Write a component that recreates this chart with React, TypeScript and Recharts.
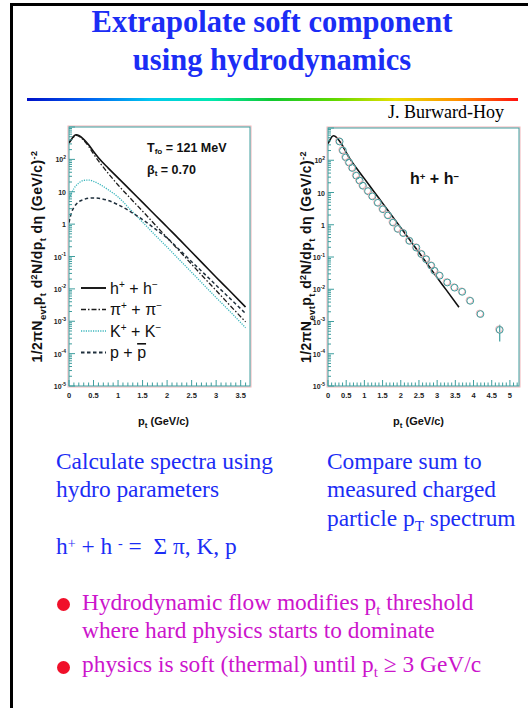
import React from "react";
import {
  ComposedChart,
  Line,
  Scatter,
  XAxis,
  YAxis,
  ReferenceArea,
  ErrorBar,
  Legend,
} from "recharts";

// Hydro blast-wave spectra, Tfo = 121 MeV, beta_t = 0.70
const hydroPt = [0, 0.05, 0.1, 0.15, 0.2, 0.3, 0.4, 0.5, 0.6, 0.8, 1.0, 1.25, 1.5, 1.75, 2.0, 2.25, 2.5, 2.75, 3.0, 3.25, 3.6];
const hSum = [331, 417, 525, 575, 550, 417, 282, 174, 112, 53.7, 26.9, 11.2, 4.68, 1.95, 0.813, 0.339, 0.138, 0.0562, 0.0229, 0.00955, 0.00275];
const pion = [316, 398, 501, 550, 525, 389, 253, 147, 90, 37, 16.2, 6.31, 2.51, 0.977, 0.38, 0.148, 0.0575, 0.0224, 0.00891, 0.00347, 0.000955];
const kaon = [6.31, 8.91, 12.6, 15.8, 18.6, 22.4, 22.9, 20.9, 17.8, 11.5, 6.92, 2.82, 1.15, 0.468, 0.195, 0.0794, 0.0324, 0.0132, 0.00537, 0.00224, 0.000631];
const proton = [1.12, 2.24, 3.31, 4.17, 4.9, 5.75, 6.31, 6.46, 6.31, 5.37, 3.98, 2.45, 1.38, 0.724, 0.372, 0.162, 0.0692, 0.0302, 0.0129, 0.00562, 0.00174];

// Measured charged hadron spectrum
const measPt = [0.32, 0.41, 0.49, 0.58, 0.67, 0.78, 0.87, 0.96, 1.1, 1.22, 1.37, 1.51, 1.65, 1.79, 1.92, 2.07, 2.24, 2.43, 2.57, 2.7, 2.84, 2.93, 3.07, 3.28, 3.48, 3.69, 3.91, 4.19, 4.72];
const measY = [380, 200, 123, 85.1, 57.5, 33.1, 23.4, 16.2, 11.0, 7.59, 4.79, 3.02, 1.95, 1.17, 0.741, 0.55, 0.316, 0.195, 0.123, 0.0851, 0.0537, 0.0372, 0.0263, 0.0162, 0.0112, 0.00832, 0.00437, 0.0017, 0.00055];
const measErrLow = [0, 0, 0, 0, 0, 0, 0, 0, 0, 0, 0, 0, 0, 0, 0, 0, 0, 0, 0, 0, 0, 0, 0, 0, 0, 0, 0, 0, 0.00031];
const measErrHigh = [0, 0, 0, 0, 0, 0, 0, 0, 0, 0, 0, 0, 0, 0, 0, 0, 0, 0, 0, 0, 0, 0, 0, 0, 0, 0, 0, 0, 0.00024];

const xMajorLeft = [0, 0.5, 1, 1.5, 2, 2.5, 3, 3.5];
const xMajorRight = [0, 0.5, 1, 1.5, 2, 2.5, 3, 3.5, 4, 4.5, 5];
const yDecades = [1e-5, 1e-4, 1e-3, 1e-2, 1e-1, 1, 10, 100, 1000];
const legendOrder = ["h", "pi", "k", "p"];

const hydroData = hydroPt.map((pt, i) => ({
  pt,
  h: hSum[i],
  pi: pion[i],
  k: kaon[i],
  p: proton[i],
}));
const measData = measPt.map((pt, i) => ({
  pt,
  y: measY[i],
  err: [measErrLow[i], measErrHigh[i]],
}));

const TEAL = "#3e9e9e";
const PINK = "#f2b4b8";
const SANS = "'Liberation Sans', Arial, sans-serif";
const SERIF = "'Liberation Serif', 'Times New Roman', serif";
const BLUE = "#1b2df5";
const MAGENTA = "#cc14cc";

// minor ticks every 0.1 GeV/c
const minorX = (max: number) => Array.from({ length: Math.round(max * 10) + 1 }, (_, i) => i / 10);
const yTicks = yDecades.flatMap((d, i) =>
  i === yDecades.length - 1 ? [d] : [1, 2, 3, 4, 5, 6, 7, 8, 9].map((m) => m * d)
);

const seriesStyle: Record<string, { stroke: string; dash?: string; width: number; label: React.ReactNode }> = {
  h: { stroke: "#111", width: 1.6, label: <>h<tspan dy={-6} fontSize={10}>+</tspan><tspan dy={6}> + h</tspan><tspan dy={-6} fontSize={10}>−</tspan></> },
  pi: { stroke: "#1c1c1c", dash: "5 2 1.5 2", width: 1.3, label: <>π<tspan dy={-6} fontSize={10}>+</tspan><tspan dy={6}> + π</tspan><tspan dy={-6} fontSize={10}>−</tspan></> },
  k: { stroke: "#3bb6bd", dash: "1.2 1.2", width: 1.3, label: <>K<tspan dy={-6} fontSize={10}>+</tspan><tspan dy={6}> + K</tspan><tspan dy={-6} fontSize={10}>−</tspan></> },
  p: { stroke: "#1f2f3c", dash: "3.5 2.5", width: 1.5, label: <>p + <tspan textDecoration="overline">p</tspan></> },
};

function XTick(props: any) {
  const { x, y, payload, majors } = props;
  const v = payload.value;
  const major = majors.some((m: number) => Math.abs(m - v) < 1e-6);
  return (
    <g>
      <line x1={x} x2={x} y1={y} y2={y - (major ? 6 : 3.5)} stroke={TEAL} strokeWidth={1} />
      {major && (
        <text x={x} y={y + 12} textAnchor="middle" fontFamily={SANS} fontWeight="bold" fontSize={7.5} fill="#222">
          {v}
        </text>
      )}
    </g>
  );
}

function YTick(props: any) {
  const { x, y, payload } = props;
  const lv = Math.log10(payload.value);
  const e = Math.round(lv);
  const major = Math.abs(lv - e) < 1e-6;
  return (
    <g>
      <line x1={x} x2={x + (major ? 6 : 3)} y1={y} y2={y} stroke={TEAL} strokeWidth={1} />
      {major && e < 3 && (
        <text x={x - 3} y={y + 3} textAnchor="end" fontFamily={SANS} fontWeight="bold" fontSize={7} fill="#222">
          {e === 0 ? "1" : "10"}
          {e !== 0 && e !== 1 && (
            <tspan dy={-3.5} fontSize={5}>
              {e}
            </tspan>
          )}
        </text>
      )}
    </g>
  );
}

const Frame = (p: any) => (
  <g>
    <rect x={p.x - 1} y={p.y - 1} width={p.width + 2} height={p.height + 2} fill="none" stroke={PINK} strokeWidth={1} />
    <rect x={p.x} y={p.y} width={p.width} height={p.height} fill="none" stroke={TEAL} strokeWidth={1} />
  </g>
);

function YTitle({ viewBox, dx }: any) {
  const cx = viewBox.x + dx;
  const cy = viewBox.y + viewBox.height / 2;
  return (
    <text
      x={cx}
      y={cy}
      transform={`rotate(-90 ${cx} ${cy})`}
      textAnchor="middle"
      fontFamily={SANS}
      fontWeight="bold"
      fontSize={14}
      letterSpacing={0.4}
      fill="#111"
    >
      1/2πN<tspan dy={3.5} fontSize={9.5}>evt</tspan>
      <tspan dy={-3.5}>p</tspan>
      <tspan dy={3.5} fontSize={9.5}>t</tspan>
      <tspan dy={-3.5}> d</tspan>
      <tspan dy={-5} fontSize={9}>2</tspan>
      <tspan dy={5}>N/dp</tspan>
      <tspan dy={3.5} fontSize={9.5}>t</tspan>
      <tspan dy={-3.5}> dη (GeV/c)</tspan>
      <tspan dy={-5} fontSize={9}>-2</tspan>
    </text>
  );
}

function XTitle({ viewBox, dx }: any) {
  return (
    <text x={viewBox.x + viewBox.width / 2 + dx} y={viewBox.y + 39} textAnchor="middle" fontFamily={SANS} fontWeight="bold" fontSize={11} fill="#111">
      p<tspan dy={3} fontSize={8}>t</tspan>
      <tspan dy={-3}> (GeV/c)</tspan>
    </text>
  );
}

function SpeciesLegend({ payload }: any) {
  const entries = [...(payload || [])].sort(
    (a: any, b: any) => legendOrder.indexOf(a.dataKey) - legendOrder.indexOf(b.dataKey)
  );
  return (
    <svg width={120} height={90}>
      {entries.map((entry: any, i: number) => {
        const s = seriesStyle[entry.dataKey];
        if (!s) return null;
        const y = 8 + i * 21.5;
        return (
          <g key={entry.dataKey}>
            <line x1={2} x2={27} y1={y} y2={y} stroke={s.stroke} strokeWidth={s.width + 0.3} strokeDasharray={s.dash} />
            <text x={31} y={y + 5.5} fontFamily={SANS} fontSize={16} fill="#111">
              {s.label}
            </text>
          </g>
        );
      })}
    </svg>
  );
}

function HydroChart() {
  return (
    <ComposedChart width={230} height={320} data={hydroData} margin={{ top: 7, right: 10, bottom: 0, left: 0 }}>
      <XAxis
        type="number"
        dataKey="pt"
        domain={[0, 3.69]}
        allowDataOverflow
        ticks={minorX(3.6)}
        interval={0}
        tickSize={0}
        tickMargin={0}
        axisLine={false}
        height={54}
        tick={(p: any) => <XTick {...p} majors={xMajorLeft} />}
        label={{ content: (p: any) => <XTitle viewBox={p.viewBox} dx={4} /> }}
      />
      <YAxis
        type="number"
        scale="log"
        domain={[1e-5, 1e3]}
        allowDataOverflow
        ticks={yTicks}
        interval={0}
        tickSize={0}
        tickMargin={0}
        axisLine={false}
        width={39}
        tick={(p: any) => <YTick {...p} />}
        label={{ content: (p: any) => <YTitle viewBox={p.viewBox} dx={12} /> }}
      />
      <ReferenceArea x1={0} x2={3.69} y1={1e-5} y2={1e3} ifOverflow="visible" shape={Frame} />
      {(["h", "pi", "k", "p"] as const).map((key) => (
        <Line
          key={key}
          dataKey={key}
          type="monotone"
          stroke={seriesStyle[key].stroke}
          strokeWidth={seriesStyle[key].width}
          strokeDasharray={seriesStyle[key].dash}
          dot={false}
          isAnimationActive={false}
        />
      ))}
      <Legend
        layout="vertical"
        align="center"
        verticalAlign="middle"
        content={(p: any) => <SpeciesLegend payload={p.payload} />}
        wrapperStyle={{ position: "absolute", left: 49, top: 160, width: 120, height: 90 }}
      />
    </ComposedChart>
  );
}

const OpenCircle = (p: any) => (
  <g>
    <circle cx={p.cx - 0.8} cy={p.cy - 0.6} r={3.4} fill="none" stroke={PINK} strokeWidth={1} />
    <circle cx={p.cx} cy={p.cy} r={3.4} fill="none" stroke={TEAL} strokeWidth={1} />
  </g>
);

function DataChart() {
  return (
    <ComposedChart width={248} height={320} margin={{ top: 8, right: 9, bottom: 0, left: 0 }}>
      <XAxis
        type="number"
        dataKey="pt"
        domain={[0, 5.25]}
        allowDataOverflow
        ticks={minorX(5.2)}
        interval={0}
        tickSize={0}
        tickMargin={0}
        axisLine={false}
        height={54}
        tick={(p: any) => <XTick {...p} majors={xMajorRight} />}
        label={{ content: (p: any) => <XTitle viewBox={p.viewBox} dx={-5} /> }}
      />
      <YAxis
        type="number"
        scale="log"
        domain={[1e-5, 1e3]}
        allowDataOverflow
        ticks={yTicks}
        interval={0}
        tickSize={0}
        tickMargin={0}
        axisLine={false}
        width={48}
        tick={(p: any) => <YTick {...p} />}
        label={{ content: (p: any) => <YTitle viewBox={p.viewBox} dx={31} /> }}
      />
      <ReferenceArea x1={0} x2={5.25} y1={1e-5} y2={1e3} ifOverflow="visible" shape={Frame} />
      <Line
        data={hydroData}
        dataKey="h"
        type="monotone"
        stroke="#111"
        strokeWidth={1.6}
        dot={false}
        isAnimationActive={false}
      />
      <Scatter data={measData} dataKey="y" shape={OpenCircle} isAnimationActive={false}>
        <ErrorBar dataKey="err" direction="y" width={0} stroke={TEAL} strokeWidth={1.2} />
      </Scatter>
    </ComposedChart>
  );
}

const SERIF_BASE = 0.8375;

function Txt({ x, base, size, color, children, bold, center, width }: any) {
  return (
    <div
      style={{
        position: "absolute",
        left: x,
        top: base - SERIF_BASE * size,
        width,
        textAlign: center ? "center" : "left",
        fontFamily: SERIF,
        fontSize: size,
        lineHeight: 1,
        fontWeight: bold ? "bold" : "normal",
        color,
        whiteSpace: "nowrap",
      }}
    >
      {children}
    </div>
  );
}

const Sub = ({ children }: any) => (
  <span style={{ position: "relative", top: "0.3em", fontSize: "0.65em" }}>{children}</span>
);
const Sup = ({ children }: any) => (
  <span style={{ position: "relative", top: "-0.45em", fontSize: "0.6em" }}>{children}</span>
);

const Bullet = ({ y }: { y: number }) => (
  <div style={{ position: "absolute", left: 57, top: y - 6.5, width: 13, height: 13, borderRadius: "50%", background: "#f0102a" }} />
);

export default function App() {
  return (
    <div style={{ position: "absolute", left: 0, top: 0, width: 528, height: 708, background: "#fff", overflow: "hidden" }}>
      <div style={{ position: "absolute", left: 10, top: 3, width: 3, height: 705, background: "#000" }} />
      <div style={{ position: "absolute", left: 10, top: 3, width: 518, height: 2.5, background: "#000" }} />

      <Txt x={16} width={512} base={33} size={30.5} color={BLUE} bold center>
        Extrapolate soft component
      </Txt>
      <Txt x={16} width={512} base={71} size={30.5} color={BLUE} bold center>
        using hydrodynamics
      </Txt>
      <div
        style={{
          position: "absolute",
          left: 27,
          top: 98,
          width: 491,
          height: 3,
          background: "linear-gradient(to right, #0010c8, #0060f0, #00c8f0, #00e8b0, #10c830, #60d800, #e8e000, #ff9000, #ff1010)",
        }}
      />
      <Txt x={388} base={118} size={18} color="#000">
        J. Burward-Hoy
      </Txt>

      <div style={{ position: "absolute", left: 30, top: 120 }}>
        <HydroChart />
      </div>
      <div style={{ position: "absolute", left: 280, top: 120 }}>
        <DataChart />
      </div>

      <div style={{ position: "absolute", left: 147, top: 138, fontFamily: SANS, fontWeight: "bold", fontSize: 12.5, lineHeight: "20px", color: "#111", whiteSpace: "nowrap" }}>
        <div>
          T<Sub>fo</Sub> = 121 MeV
        </div>
        <div>
          β<Sub>t</Sub> = 0.70
        </div>
      </div>
      <div style={{ position: "absolute", left: 410, top: 171, fontFamily: SANS, fontWeight: "bold", fontSize: 16, lineHeight: 1, color: "#111", whiteSpace: "nowrap" }}>
        h<Sup>+</Sup> + h<Sup>−</Sup>
      </div>

      <Txt x={56} base={470} size={23.4} color={BLUE}>
        Calculate spectra using
      </Txt>
      <Txt x={56} base={498} size={23.4} color={BLUE}>
        hydro parameters
      </Txt>
      <Txt x={327} base={470} size={23.4} color={BLUE}>
        Compare sum to
      </Txt>
      <Txt x={327} base={498} size={23.4} color={BLUE}>
        measured charged
      </Txt>
      <Txt x={327} base={527} size={23.4} color={BLUE}>
        particle p<Sub>T</Sub> spectrum
      </Txt>
      <Txt x={56} base={555} size={23.4} color={BLUE}>
        h<Sup>+</Sup> + h <Sup>-</Sup> = &nbsp;Σ π, K, p
      </Txt>

      <Bullet y={604} />
      <Txt x={82} base={611} size={23.4} color={MAGENTA}>
        Hydrodynamic flow modifies p<Sub>t</Sub> threshold
      </Txt>
      <Txt x={82} base={639} size={23.4} color={MAGENTA}>
        where hard physics starts to dominate
      </Txt>
      <Bullet y={667} />
      <Txt x={82} base={673} size={23.4} color={MAGENTA}>
        physics is soft (thermal) until p<Sub>t</Sub> ≥ 3 GeV/c
      </Txt>
    </div>
  );
}
